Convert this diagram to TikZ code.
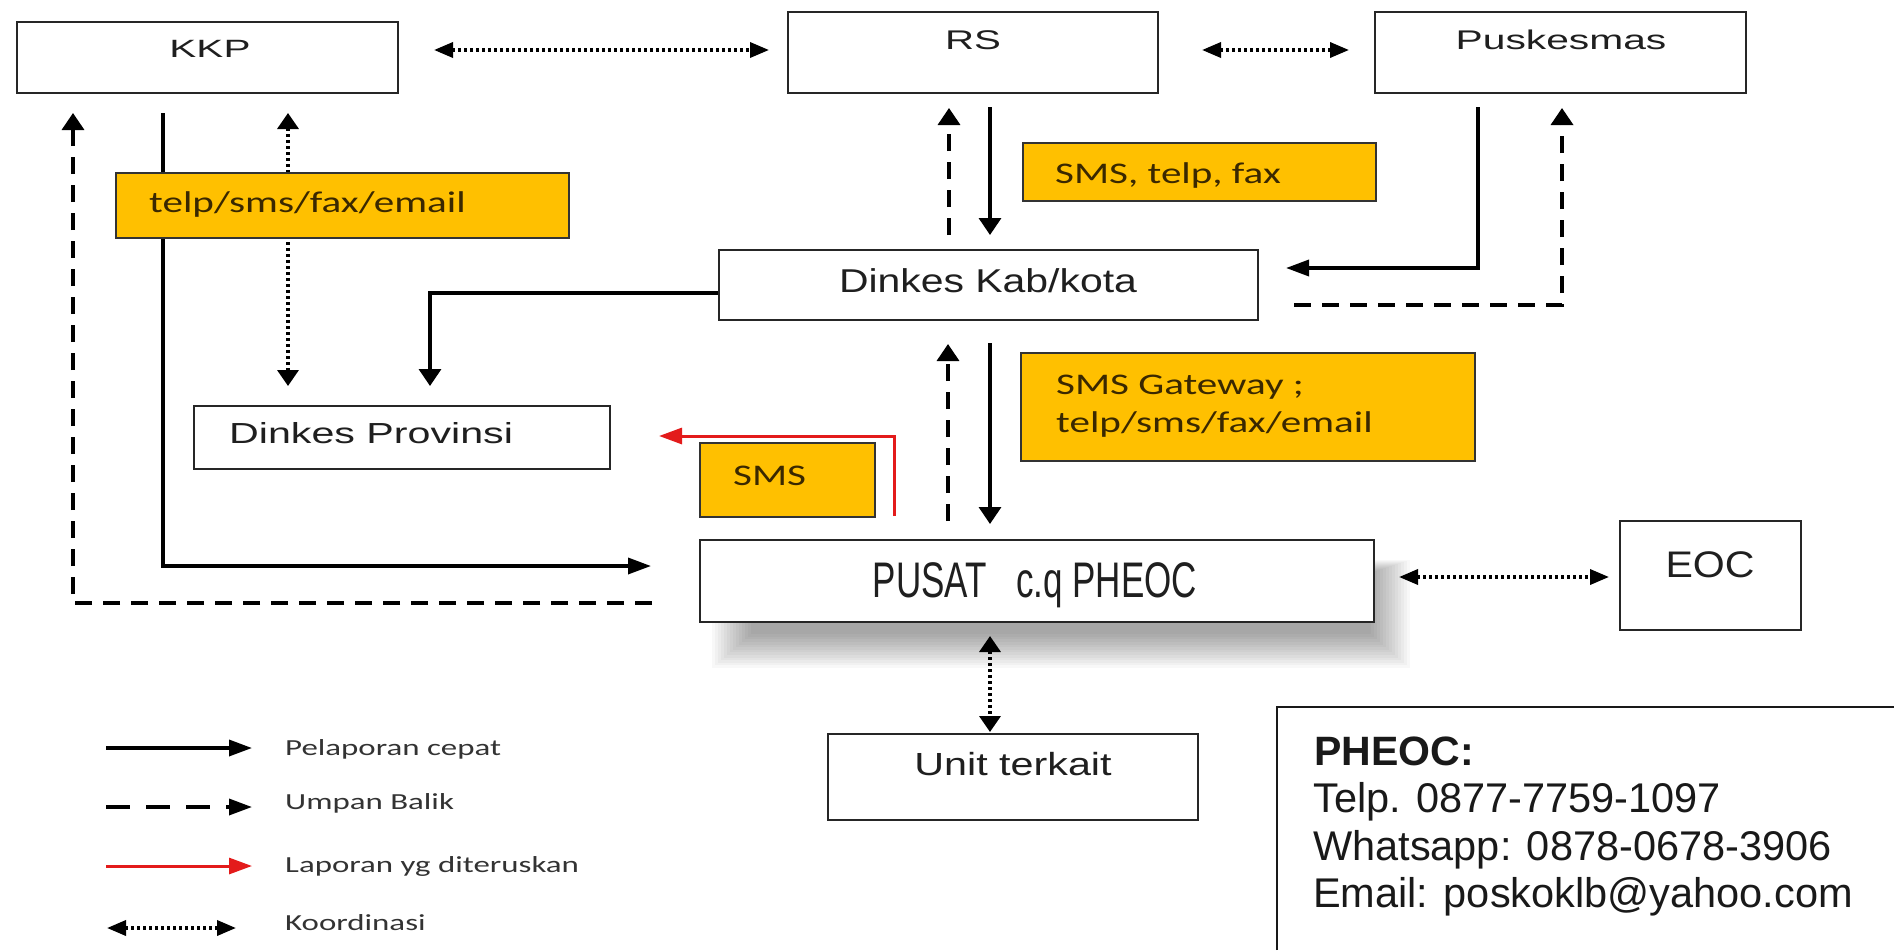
\documentclass[tikz,border=0pt]{standalone}
\usepackage{fontspec}
\usepackage{graphicx}
\usetikzlibrary{arrows.meta,calc}
\newfontfamily\arialf{Liberation Sans}
\newfontfamily\calf{Carlito}
\definecolor{gold}{HTML}{FFC000}
\definecolor{ytext}{HTML}{3A2800}
\definecolor{redline}{HTML}{E31B1B}
\newcommand\albl[3]{\scalebox{#2}[1]{\fontsize{#1}{#1}\selectfont\arialf #3}}
\newcommand\clbl[3]{\scalebox{#2}[1]{\fontsize{#1}{#1}\selectfont\calf #3}}
\begin{document}
\begin{tikzpicture}[x=1pt,y=-1pt,
  box/.style={draw=black!85, line width=2pt, fill=white, inner sep=0pt},
  ybox/.style={draw=black!80, line width=2pt, fill=gold, inner sep=0pt},
  txt/.style={inner sep=0pt, anchor=base, text=black!88},
  ltxt/.style={inner sep=0pt, anchor=base west, text=black!88},
  ytxt/.style={inner sep=0pt, anchor=base west, text=ytext},
  legtxt/.style={inner sep=0pt, anchor=base west, text=black!80},
  vtip/.style={-{Triangle[length=17pt,width=22pt]}},
  htip/.style={-{Triangle[length=23pt,width=16pt]}},
  vboth/.style={{Triangle[length=16pt,width=21pt]}-{Triangle[length=16pt,width=21pt]}},
  hboth/.style={{Triangle[length=19pt,width=15pt]}-{Triangle[length=19pt,width=15pt]}},
  solidln/.style={line width=3.5pt, draw=black},
  dashln/.style={line width=3.5pt, draw=black, dash pattern=on 17pt off 11pt},
  dotln/.style={line width=3.5pt, draw=black, dash pattern=on 3pt off 3pt},
  redln/.style={line width=3pt, draw=redline}
]
\fill[white] (0,0) rectangle (1894,950);
\useasboundingbox (0,0) rectangle (1894,950);

% soft shadow of PUSAT box
\foreach \i in {0,...,13}{
  \fill[black,opacity=0.028] (712+3*\i,560+\i) rectangle (1410-3*\i,668-2.6*\i);
}

% boxes
\node[box, minimum width=381pt, minimum height=71pt] (kkp) at (207.5,57.5) {};
\node[box, minimum width=370pt, minimum height=81pt] (rs) at (973,52.5) {};
\node[box, minimum width=371pt, minimum height=81pt] (pusk) at (1560.5,52.5) {};
\node[box, minimum width=539pt, minimum height=70pt] (dkab) at (988.5,285) {};
\node[box, minimum width=416pt, minimum height=63pt] (dprov) at (402,437.5) {};
\node[box, minimum width=674pt, minimum height=82pt] (pusat) at (1037,581) {};
\node[box, minimum width=181pt, minimum height=109pt] (eoc) at (1710.5,575.5) {};
\node[box, minimum width=370pt, minimum height=86pt] (unit) at (1013,777) {};

% box labels
\node[txt] (kkpt) at (210,57) {\albl{25}{1.62}{KKP}};
\node[txt] (rst) at (973,49) {\albl{27}{1.49}{RS}};
\node[txt] (puskt) at (1561,49) {\albl{27}{1.51}{Puskesmas}};
\node[txt] (dkabt) at (988,292) {\albl{33}{1.24}{Dinkes Kab/kota}};
\node[ltxt] (dprovt) at (229,443) {\albl{29}{1.42}{Dinkes Provinsi}};
\node[txt] (pusatt) at (1035,597) {\albl{50}{0.70}{PUSAT\ \ \ c.q PHEOC}};
\node[txt] (eoct) at (1710,577) {\albl{37}{1.11}{EOC}};
\node[txt] (unitt) at (1013,775) {\albl{32}{1.29}{Unit terkait}};

% connectors
\draw[dotln,hboth] ($(kkp.east)+(35,-7.5)$) -- ($(rs.west)+(-18,-2.5)$);
\draw[dotln,hboth] ($(rs.east)+(43,-2.5)$) -- ($(pusk.west)+(-25,-2.5)$);
\draw[solidln,vtip] ($(rs.south)+(17,13)$) -- ($(dkab.north)+(1.5,-14)$);
\draw[dashln,vtip] ($(dkab.north)+(-39.5,-14)$) -- ($(rs.south)+(-24,14)$);
\draw[solidln,htip] ($(pusk.south)+(-82.5,13)$) |- ($(dkab.east)+(27,-17)$);
\draw[dashln,vtip] ($(dkab.east)+(35,20)$) -| ($(pusk.south)+(1.5,14)$);
\draw[solidln,vtip] ($(dkab.west)+(0,8)$) -| ($(dprov.north)+(28,-19)$);
\draw[dotln,vboth] ($(kkp.south)+(80.5,19)$) -- ($(dprov.north)+(-114,-19)$);
\draw[solidln,htip] ($(kkp.south)+(-44.5,19)$) |- ($(pusat.west)+(-48,-15)$);
\draw[dashln,vtip] ($(pusat.west)+(-47,22)$) -| ($(kkp.south)+(-134.5,19)$);
\draw[solidln,vtip] ($(dkab.south)+(1.5,22)$) -- ($(pusat.north)+(-47,-15)$);
\draw[dashln,vtip] ($(pusat.north)+(-89,-18)$) -- ($(dkab.south)+(-40.5,23)$);
\draw[redln,htip] ($(pusat.north)+(-143,-23)$) |- ($(dprov.east)+(48,-1.5)$);
\draw[dotln,hboth] ($(pusat.east)+(24,-4)$) -- ($(eoc.west)+(-10,1.5)$);
\draw[dotln,vboth] ($(pusat.south)+(-47,13)$) -- ($(unit.north)+(-23,-1)$);

% yellow label boxes
\node[ybox, minimum width=453pt, minimum height=65pt] (y1) at (342.5,205.5) {};
\node[ybox, minimum width=353pt, minimum height=58pt] (y2) at (1199.5,172) {};
\node[ybox, minimum width=454pt, minimum height=108pt] (y3) at (1248,407) {};
\node[ybox, minimum width=175pt, minimum height=74pt] (y4) at (787.5,480) {};
\node[ytxt] (y1t) at (149,212) {\clbl{30}{1.37}{telp/sms/fax/email}};
\node[ytxt] (y2t) at (1055,183) {\clbl{30}{1.37}{SMS, telp, fax}};
\node[ytxt] (y3a) at (1056,394) {\clbl{30}{1.37}{SMS Gateway ;}};
\node[ytxt] (y3b) at (1056,432) {\clbl{30}{1.37}{telp/sms/fax/email}};
\node[ytxt] (y4t) at (733,485) {\clbl{30}{1.37}{SMS}};

% info box
\coordinate (infobl) at (1277,950);
\coordinate (infotl) at (1277,707);
\coordinate (infotr) at (1894,707);
\draw[line width=2pt, black!90] (infobl) -- (infotl) -- (infotr);
\node[ltxt, text=black!90] (inf1) at (1314,765) {\fontsize{41}{41}\selectfont\arialf\bfseries PHEOC:};
\node[ltxt, text=black!90] (inf2) at (1313,812) {\fontsize{41.5}{41.5}\selectfont\arialf Telp. 0877-7759-1097};
\node[ltxt, text=black!90] (inf3) at (1313,860) {\fontsize{41.5}{41.5}\selectfont\arialf Whatsapp: 0878-0678-3906};
\node[ltxt, text=black!90] (inf4) at (1313,907) {\fontsize{41.5}{41.5}\selectfont\arialf Email: poskoklb@yahoo.com};

% legend
\coordinate (la1) at (106,748); \coordinate (lb1) at (252,748);
\coordinate (la2) at (106,807); \coordinate (lb2) at (252,807);
\coordinate (la3) at (106,866); \coordinate (lb3) at (252,866);
\coordinate (la4) at (107,928); \coordinate (lb4) at (236,928);
\draw[solidln,htip] (la1) -- (lb1);
\draw[line width=3.5pt, dash pattern=on 24pt off 16pt, htip] (la2) -- (lb2);
\draw[redln,htip] (la3) -- (lb3);
\draw[dotln,hboth] (la4) -- (lb4);
\node[legtxt] (lt1) at (285,755) {\clbl{23}{1.43}{Pelaporan cepat}};
\node[legtxt] (lt2) at (285,809) {\clbl{23}{1.43}{Umpan Balik}};
\node[legtxt] (lt3) at (285,872) {\clbl{23}{1.43}{Laporan yg diteruskan}};
\node[legtxt] (lt4) at (285,930) {\clbl{23}{1.43}{Koordinasi}};
\end{tikzpicture}
\end{document}
